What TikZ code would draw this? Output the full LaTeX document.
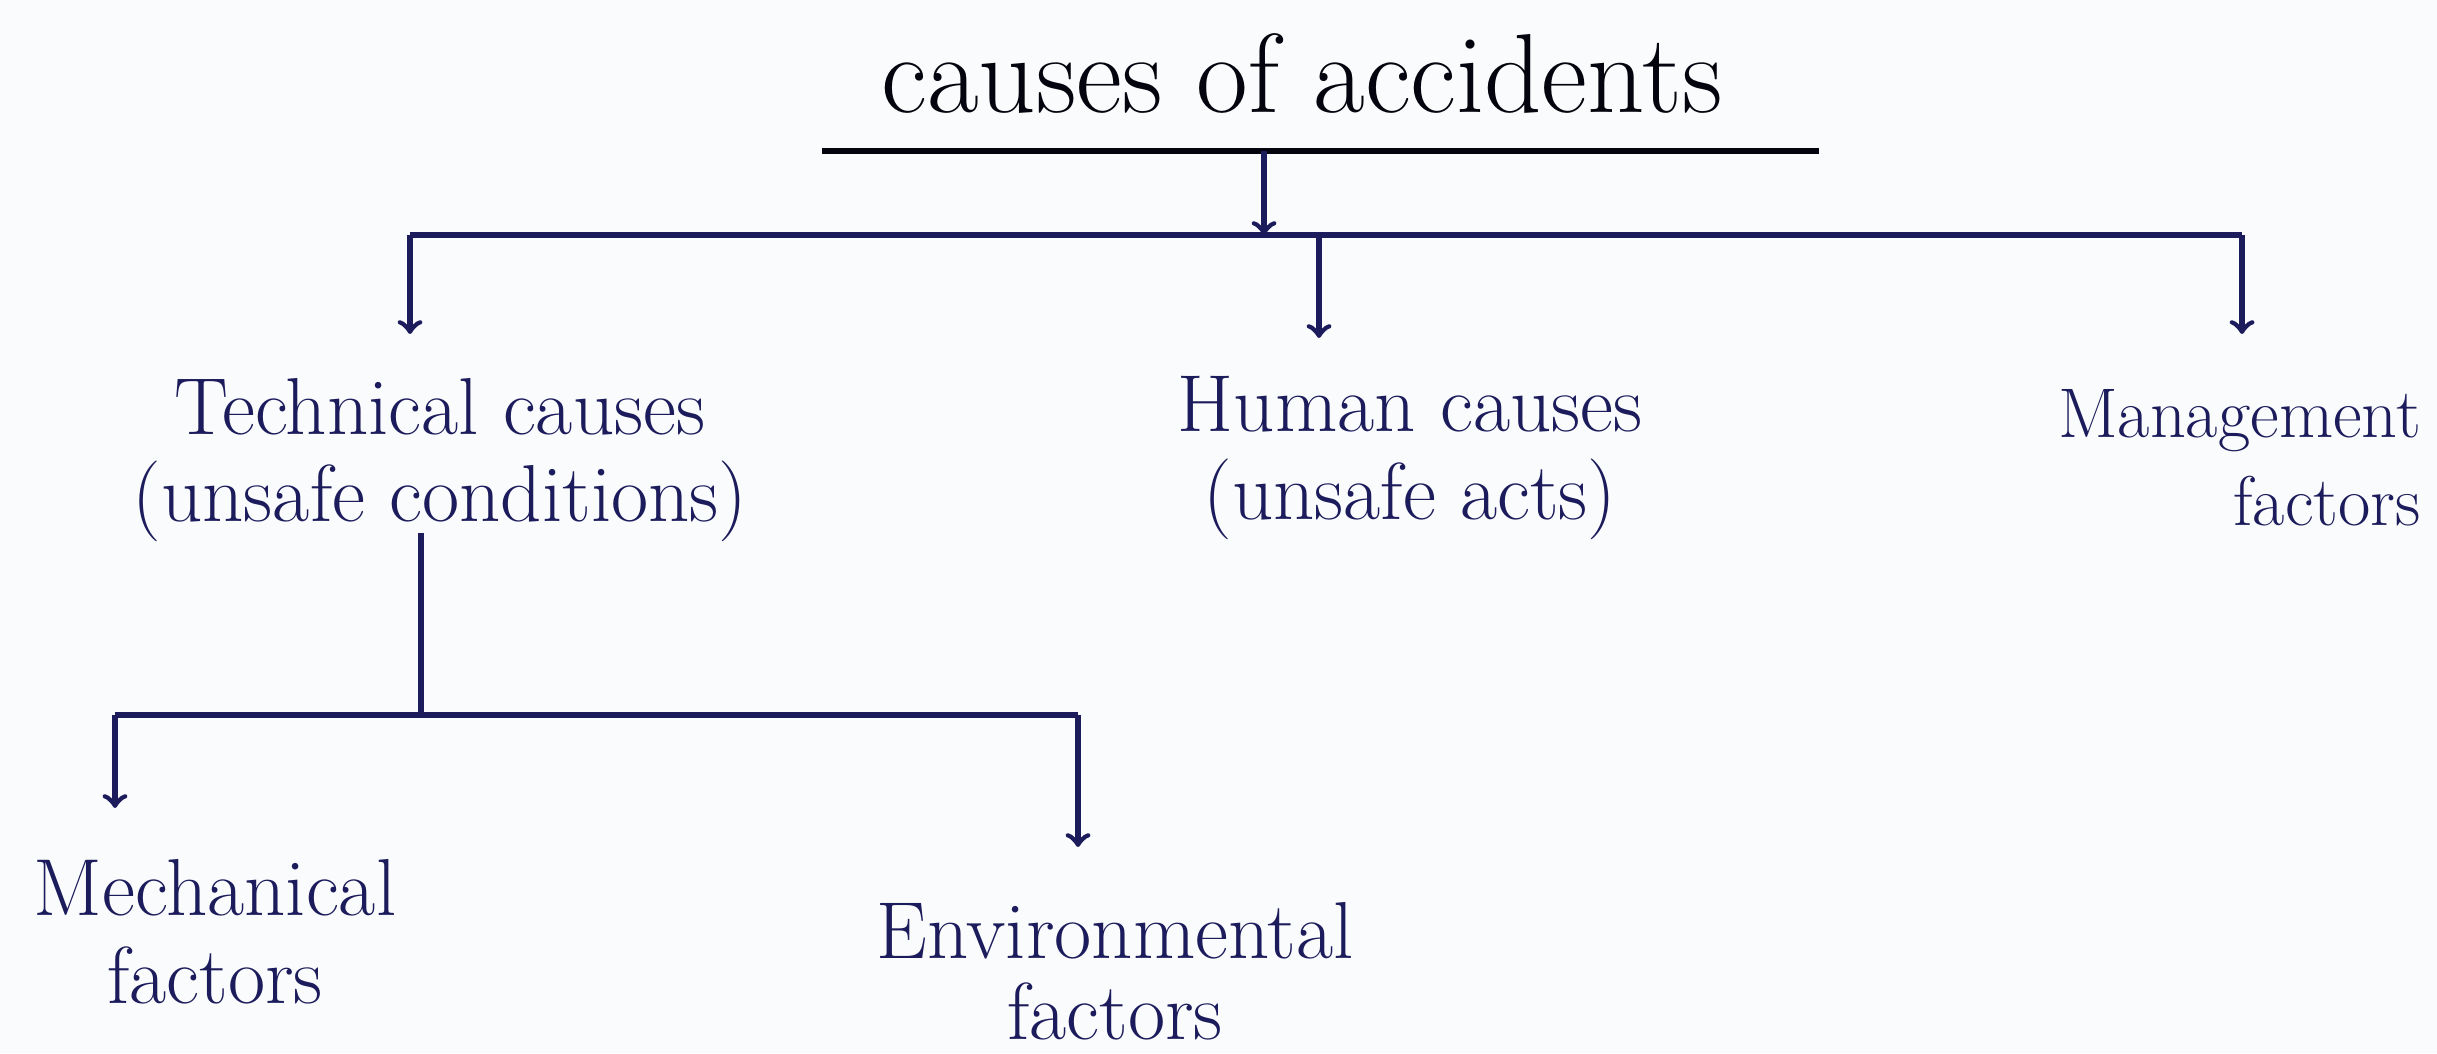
\documentclass[tikz,border=0pt]{standalone}
\usepackage{amsmath}
\usepackage{tikz}
\usetikzlibrary{arrows,positioning}
\usepackage{color}

\definecolor{ink}{RGB}{28,28,92}
\definecolor{paper}{RGB}{250,251,252}

\begin{document}
\begin{tikzpicture}[
  label/.style={shape=rectangle,align=center,text=ink,inner sep=1pt,
    font=\fontsize{23}{25}\selectfont},
  wire/.style={draw=ink,line width=1.5pt},
  arr/.style={wire,->,>=to}]
  \fill[paper] (0,0) rectangle (24.37,10.53);
  \useasboundingbox (0,0) rectangle (24.37,10.53);

  % root and its underline
  \path (13.02,9.80) node [label,text=black!85!ink,font=\fontsize{32}{38}\selectfont] (root) {causes of accidents};
  \coordinate (ulL) at (8.22,9.02);
  \coordinate (ulR) at (18.19,9.02);
  \coordinate (rootFoot) at (12.64,9.02);
  \draw [wire,draw=black!85!ink] (ulL) -- (ulR);

  % first level
  \path (4.40,5.93) node [label] (tech) {Technical causes\\(unsafe conditions)}
  (14.10,5.95) node [label] (human) {Human causes\\(unsafe acts)}
  (24.25,5.95) node [label,anchor=east,align=right,font=\fontsize{20}{25}\selectfont] (mgmt) {Management\\factors};

  \coordinate (barL) at (4.10,8.18);
  \coordinate (barM) at (13.19,8.18);
  \coordinate (barR) at (22.42,8.18);
  \draw [arr] (rootFoot) -- (12.64,8.18);
  \draw [wire] (barL) -- (barR);
  \draw [arr] (barL) -- (4.10,7.19);
  \draw [arr] (barM) -- (13.19,7.15);
  \draw [arr] (barR) -- (22.42,7.19);

  % second level under technical causes
  \path (2.15,1.21) node [label] (mech) {Mechanical\\factors}
  (11.15,0.82) node [label,font=\fontsize{23}{23}\selectfont] (env) {Environmental\\factors};

  \coordinate (techFoot) at (4.21,5.20);
  \coordinate (subL) at (1.15,3.38);
  \coordinate (subM) at (4.21,3.38);
  \coordinate (subR) at (10.78,3.38);
  \draw [wire] (techFoot) -- (subM);
  \draw [wire] (subL) -- (subR);
  \draw [arr] (subL) -- (1.15,2.45);
  \draw [arr] (subR) -- (10.78,2.06);
\end{tikzpicture}
\end{document}
